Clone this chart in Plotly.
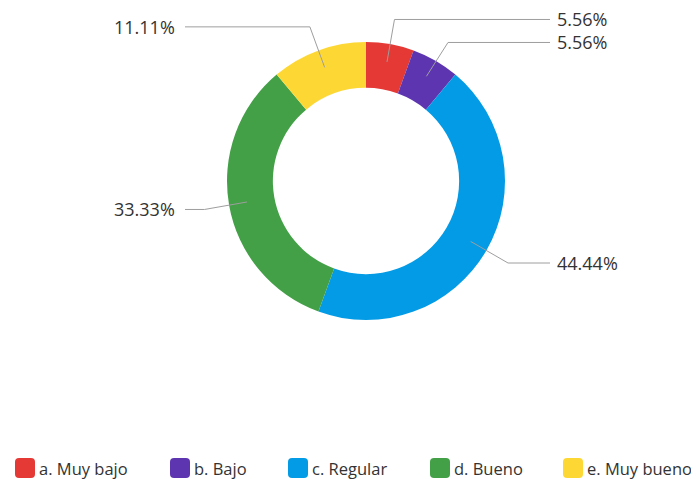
import math
import plotly.graph_objects as go

# data
labels = ["a. Muy bajo", "b. Bajo", "c. Regular", "d. Bueno", "e. Muy bueno"]
counts = [1, 1, 8, 6, 2]
colors = ["#E53935", "#5E35B1", "#039BE5", "#43A047", "#FDD835"]

# the page body has an 8px margin, so the figure is drawn 8px in from the corner
OFF = 8
W, H = 699 - OFF, 479 - OFF
CX, CY, R = 366 - OFF, 181 - OFF, 139   # donut centre / outer radius in px
HOLE = 0.67
LINE_START = 0.87 * R          # leader line starts inside the ring
ELBOW = 1.18 * R               # leader line bends here
RIGHT_END, LEFT_END = 550 - OFF, 185 - OFF
MIN_GAP = 23                   # min vertical gap between stacked labels
LEGEND_X = [15 - OFF, 170 - OFF, 288 - OFF, 430 - OFF, 563 - OFF]
LEGEND_Y = 468 - OFF
FONT = "Open Sans"


def px(x, y):
    """pixel coords -> paper coords"""
    return x / W, 1 - y / H


fig = go.Figure()

fig.add_trace(go.Pie(
    labels=labels,
    values=counts,
    hole=HOLE,
    sort=False,
    direction="clockwise",
    rotation=0,
    marker=dict(colors=colors, line=dict(width=0)),
    textinfo="none",
    hoverinfo="label+percent",
    showlegend=False,
    domain=dict(x=[(CX - R) / W, (CX + R) / W],
                y=[1 - (CY + R) / H, 1 - (CY - R) / H]),
))

shapes = []
annotations = []
total = sum(counts)
cum = 0
last_right_y = None
for lab, v, c in zip(labels, counts, colors):
    mid = (cum + v / 2) / total * 2 * math.pi
    cum += v
    s, co = math.sin(mid), math.cos(mid)
    x0, y0 = CX + LINE_START * s, CY - LINE_START * co
    x1, y1 = CX + ELBOW * s, CY - ELBOW * co
    right = s >= 0
    if right:
        if last_right_y is not None and y1 - last_right_y < MIN_GAP:
            y1 = last_right_y + MIN_GAP
        last_right_y = y1
    x2 = RIGHT_END if right else LEFT_END
    p0, p1, p2 = px(x0, y0), px(x1, y1), px(x2, y1)
    shapes.append(dict(
        type="path", xref="paper", yref="paper",
        path=f"M {p0[0]},{p0[1]} L {p1[0]},{p1[1]} L {p2[0]},{p2[1]}",
        line=dict(color="#9e9e9e", width=1),
    ))
    tx = x2 + 5 if right else x2 - 8
    annotations.append(dict(
        x=tx / W, y=1 - y1 / H, xref="paper", yref="paper",
        text=f"{v / total * 100:.2f}%", showarrow=False,
        xanchor="left" if right else "right", yanchor="middle",
        font=dict(family=FONT, size=18, color="#333333"),
    ))

# legend drawn by hand: rounded swatches + text
for lab, c, lx in zip(labels, colors, LEGEND_X):
    a, b = lx, LEGEND_Y - 10
    r = 4
    pts = [
        ("M", a + r, b), ("L", a + 20 - r, b), ("Q", a + 20, b, a + 20, b + r),
        ("L", a + 20, b + 20 - r), ("Q", a + 20, b + 20, a + 20 - r, b + 20),
        ("L", a + r, b + 20), ("Q", a, b + 20, a, b + 20 - r),
        ("L", a, b + r), ("Q", a, b, a + r, b),
    ]
    d = ""
    for p in pts:
        seg = []
        for i in range(1, len(p), 2):
            qx, qy = px(p[i], p[i + 1])
            seg.append(f"{qx},{qy}")
        d += f"{p[0]} {' '.join(seg)} "
    shapes.append(dict(type="path", xref="paper", yref="paper", path=d + "Z",
                       fillcolor=c, line=dict(width=0)))
    annotations.append(dict(
        x=(lx + 22) / W, y=1 - LEGEND_Y / H, xref="paper", yref="paper",
        text=lab, showarrow=False, xanchor="left", yanchor="middle",
        font=dict(family=FONT, size=16.5, color="#333333"),
    ))

fig.update_layout(
    width=W,
    height=H,
    margin=dict(l=0, r=0, t=0, b=0),
    paper_bgcolor="white",
    plot_bgcolor="white",
    shapes=shapes,
    annotations=annotations,
    font=dict(family=FONT, color="#333333"),
)

fig.write_html("out.html")
